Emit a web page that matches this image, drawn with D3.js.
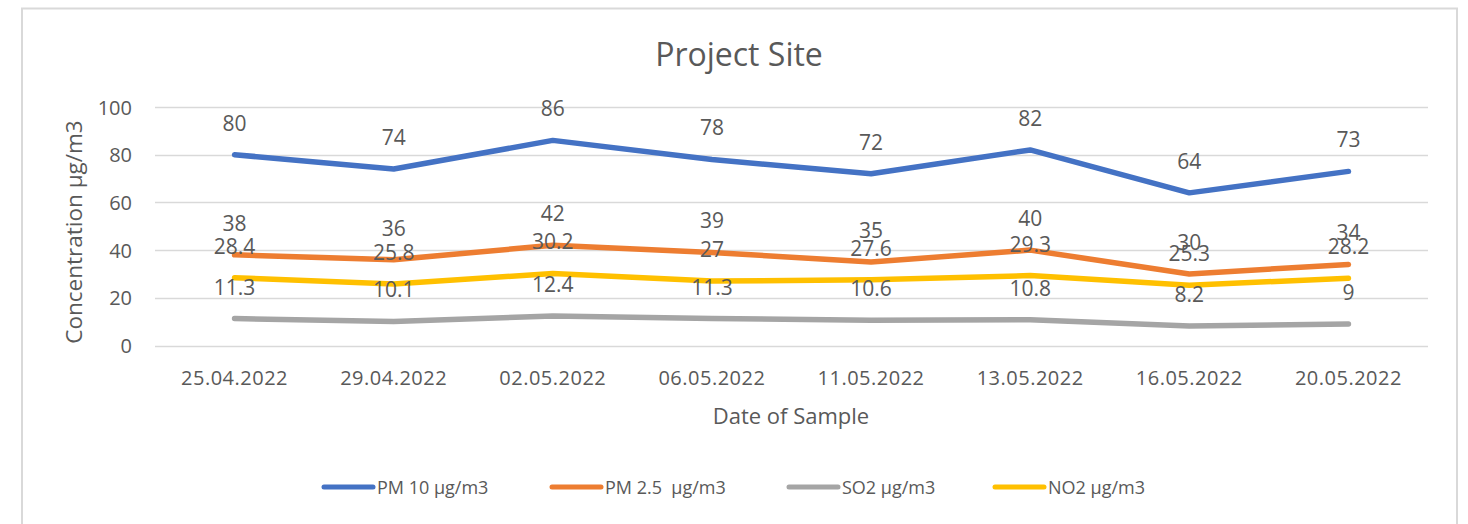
<!DOCTYPE html>
<html>
<head>
<meta charset="utf-8">
<script src="https://cdn.jsdelivr.net/npm/d3@7"></script>
<style>
  html, body { margin: 0; padding: 0; background: #fff; }
  text { font-family: "Open Sans", sans-serif; fill: #595959; }
</style>
</head>
<body>
<svg id="chart" width="1468" height="524"></svg>
<script>
const categories = ["25.04.2022","29.04.2022","02.05.2022","06.05.2022","11.05.2022","13.05.2022","16.05.2022","20.05.2022"];
const pm10  = [80, 74, 86, 78, 72, 82, 64, 73];
const pm25  = [38, 36, 42, 39, 35, 40, 30, 34];
const so2   = [11.3, 10.1, 12.4, 11.3, 10.6, 10.8, 8.2, 9];
const no2   = [28.4, 25.8, 30.2, 27, 27.6, 29.3, 25.3, 28.2];
const seriesNames = ["PM 10 µg/m3", "PM 2.5  µg/m3", "SO2 µg/m3", "NO2 µg/m3"];
const seriesColors = ["#4472C4", "#ED7D31", "#A5A5A5", "#FFC000"];
const yTicks = [0, 20, 40, 60, 80, 100];

const series = [pm10, pm25, so2, no2].map((v, i) => ({ name: seriesNames[i], color: seriesColors[i], values: v }));

const svg = d3.select("#chart");

// chart border
svg.append("path")
  .attr("d", "M22,530 L22,8.5 L1457,8.5 L1457,530")
  .attr("fill", "none").attr("stroke", "#d9d9d9").attr("stroke-width", 2);

const plot = { left: 155, right: 1428, top: 107, bottom: 345.5 };

const x = d3.scaleBand().domain(categories).range([plot.left, plot.right]);
const y = d3.scaleLinear().domain([0, 100]).range([plot.bottom, plot.top]);

// gridlines
svg.append("g").selectAll("line").data(yTicks).join("line")
  .attr("x1", plot.left).attr("x2", plot.right)
  .attr("y1", d => Math.round(y(d)) + 0.5).attr("y2", d => Math.round(y(d)) + 0.5)
  .attr("stroke", "#d9d9d9").attr("stroke-width", 1.5);

// y axis labels
const yAxis = d3.axisLeft(y).tickValues(yTicks).tickSize(0).tickPadding(0);
const gy = svg.append("g").attr("transform", `translate(${132},0)`).call(yAxis);
gy.select(".domain").remove();
gy.selectAll("text").attr("font-size", 20).attr("font-family", "Open Sans").attr("fill", "#595959").attr("dy", "0.35em");

// x axis labels
const xAxis = d3.axisBottom(x).tickSize(0).tickPadding(0);
const gx = svg.append("g").attr("transform", `translate(0,${378})`).call(xAxis);
gx.select(".domain").remove();
gx.selectAll("text").attr("font-size", 20).attr("font-family", "Open Sans").attr("fill", "#595959")
  .attr("dy", "0.35em").attr("letter-spacing", "0.5px");

// title
svg.append("text").attr("x", 739).attr("y", 53).attr("text-anchor", "middle")
  .attr("dominant-baseline", "central").attr("font-size", 32).text("Project Site");

// axis titles
svg.append("text").attr("x", 791).attr("y", 415).attr("text-anchor", "middle")
  .attr("dominant-baseline", "central").attr("font-size", 22).text("Date of Sample");
svg.append("text").attr("transform", "translate(73,232) rotate(-90)").attr("text-anchor", "middle")
  .attr("dominant-baseline", "central").attr("font-size", 22.5).text("Concentration µg/m3");

// lines
const cx = d => x(d) + x.bandwidth() / 2;
const line = d3.line().x((d, i) => cx(categories[i])).y(d => y(d));
svg.append("g").selectAll("path").data(series).join("path")
  .attr("d", s => line(s.values))
  .attr("fill", "none").attr("stroke", s => s.color).attr("stroke-width", 5.5)
  .attr("stroke-linecap", "round").attr("stroke-linejoin", "round");

// data labels
series.forEach(s => {
  svg.append("g").selectAll("text").data(s.values).join("text")
    .attr("x", (d, i) => cx(categories[i]))
    .attr("y", d => y(d) - 32)
    .attr("text-anchor", "middle").attr("dominant-baseline", "central")
    .attr("font-size", 21).text(d => d);
});

// legend
const legendX = [322, 550, 787, 993];
const lg = svg.append("g");
series.forEach((s, i) => {
  const g = lg.append("g").attr("transform", `translate(${legendX[i]},487)`);
  g.append("line").attr("x1", 2).attr("x2", 51).attr("y1", 0).attr("y2", 0)
    .attr("stroke", s.color).attr("stroke-width", 5).attr("stroke-linecap", "round");
  g.append("text").attr("x", 55).attr("y", 0).attr("dominant-baseline", "central")
    .attr("font-size", 18).attr("xml:space", "preserve").style("white-space", "pre").text(s.name);
});
</script>
</body>
</html>
